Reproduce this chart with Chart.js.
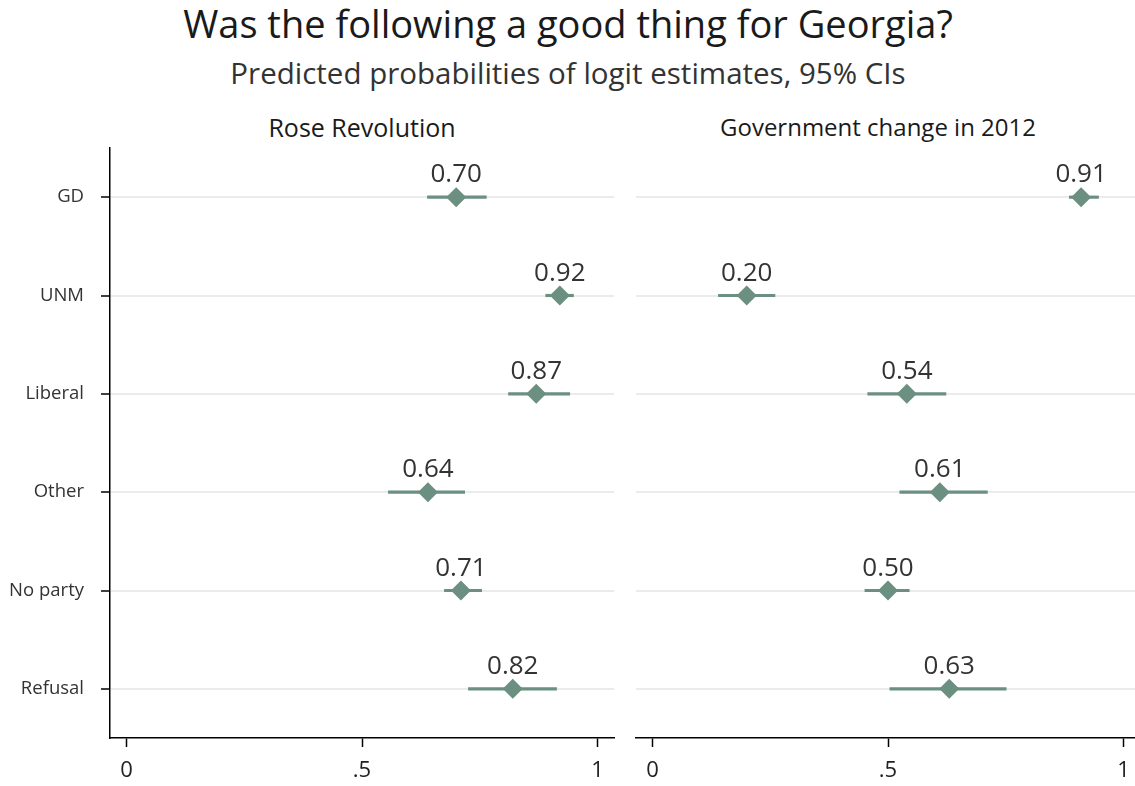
<!DOCTYPE html>
<html>
<head>
<meta charset="utf-8">
<script src="https://cdn.jsdelivr.net/npm/chart.js@4.4.0/dist/chart.umd.min.js"></script>
<style>
  html, body { margin: 0; padding: 0; background: #fff; width: 1135px; height: 786px; overflow: hidden; }
  body { position: relative; font-family: "Open Sans", sans-serif; }
  .t { position: absolute; white-space: nowrap; transform: translateX(-50%); line-height: 1; }
  #title { left: 568px; top: 4px; font-size: 38px; color: #1a1a1a; }
  #subtitle { left: 568px; top: 58px; font-size: 29.5px; color: #333; }
  .ptitle { top: 115px; font-size: 24.5px; color: #1a1a1a; }
  #p1title { left: 362px; font-size: 25px; }
  #p2title { left: 878px; font-size: 24px; }
  canvas { position: absolute; top: 140px; }
  #c1 { left: 0; }
  #c2 { left: 620px; }
</style>
</head>
<body>
<div id="title" class="t">Was the following a good thing for Georgia?</div>
<div id="subtitle" class="t">Predicted probabilities of logit estimates, 95% CIs</div>
<div id="p1title" class="t ptitle">Rose Revolution</div>
<div id="p2title" class="t ptitle">Government change in 2012</div>
<canvas id="c1" width="630" height="646"></canvas>
<canvas id="c2" width="540" height="646"></canvas>
<script>
// Party groups (rows)
const CATEGORIES = ['GD', 'UNM', 'Liberal', 'Other', 'No party', 'Refusal'];

// Rose Revolution: estimate and 95% CI bounds
const ROSE_EST = [0.70, 0.92, 0.87, 0.64, 0.71, 0.82];
const ROSE_LO  = [0.639, 0.890, 0.811, 0.556, 0.675, 0.726];
const ROSE_HI  = [0.764, 0.949, 0.941, 0.718, 0.754, 0.913];

// Government change in 2012: estimate and 95% CI bounds
const GOV_EST = [0.91, 0.20, 0.54, 0.61, 0.50, 0.63];
const GOV_LO  = [0.885, 0.140, 0.457, 0.525, 0.451, 0.504];
const GOV_HI  = [0.947, 0.260, 0.623, 0.711, 0.545, 0.751];

// Probability axis ticks
const X_TICKS = [0, 0.5, 1];
const X_TICK_LABELS = ['0', '.5', '1'];

const X_MIN = -0.035, X_MAX = 1.035;
const MARK = '#6b8f80';
const FONT = '"Open Sans", sans-serif';

// Writes each estimate above its marker
const valueLabels = {
  id: 'valueLabels',
  afterDatasetsDraw(chart) {
    const ctx = chart.ctx;
    const meta = chart.getDatasetMeta(1);
    const vals = chart.data.datasets[1].data;
    ctx.save();
    ctx.font = '26px ' + FONT;
    ctx.fillStyle = '#333';
    ctx.textAlign = 'center';
    ctx.textBaseline = 'alphabetic';
    meta.data.forEach((pt, i) => {
      ctx.fillText(vals[i].x.toFixed(2), pt.x, pt.y - 15);
    });
    ctx.restore();
  }
};

function makePanel(id, est, lo, hi, first) {
  new Chart(document.getElementById(id), {
    type: 'bar',
    data: {
      labels: CATEGORIES,
      datasets: [
        {
          type: 'bar',
          data: lo.map((l, i) => [l, hi[i]]),
          backgroundColor: MARK,
          borderWidth: 0,
          barThickness: 2.5,
          order: 2
        },
        {
          type: 'line',
          indexAxis: 'y',
          data: est.map((v, i) => ({ x: v, y: CATEGORIES[i] })),
          showLine: false,
          pointStyle: 'rectRot',
          pointRadius: 10,
          pointBackgroundColor: MARK,
          pointBorderColor: MARK,
          pointBorderWidth: 0,
          order: 1
        }
      ]
    },
    options: {
      indexAxis: 'y',
      responsive: false,
      animation: false,
      events: [],
      layout: { autoPadding: false, padding: { top: 8, right: first ? 16 : 20, bottom: 0, left: 0 } },
      plugins: { legend: { display: false }, tooltip: { enabled: false } },
      scales: {
        x: {
          type: 'linear',
          min: X_MIN,
          max: X_MAX,
          afterBuildTicks(scale) { scale.ticks = X_TICKS.map(v => ({ value: v })); },
          afterFit(scale) { scale.height = 48; scale.paddingLeft = 0; scale.paddingRight = 0; },
          ticks: {
            callback: (v, i) => X_TICK_LABELS[i],
            font: { family: FONT, size: 22 },
            color: '#222',
            padding: 11,
            maxRotation: 0
          },
          grid: {
            drawOnChartArea: false,
            drawTicks: true,
            tickLength: 9,
            tickColor: '#000',
            tickWidth: 1.5
          },
          border: { display: true, color: '#000', width: 1.5 }
        },
        y: {
          type: 'category',
          offset: true,
          afterFit(scale) {
            scale.width = first ? 110 : 16;
            scale.paddingTop = 0;
            scale.paddingBottom = 0;
          },
          ticks: {
            display: first,
            font: { family: FONT, size: 18.5 },
            color: '#333',
            padding: 17
          },
          grid: {
            offset: false,
            color: '#ebebeb',
            lineWidth: 2,
            drawTicks: first,
            tickLength: first ? 9 : 0,
            tickColor: '#000',
            tickWidth: 1.5
          },
          border: { display: first, color: '#000', width: 1.5 }
        }
      }
    },
    plugins: [valueLabels]
  });
}

makePanel('c1', ROSE_EST, ROSE_LO, ROSE_HI, true);
makePanel('c2', GOV_EST, GOV_LO, GOV_HI, false);
</script>
</body>
</html>
